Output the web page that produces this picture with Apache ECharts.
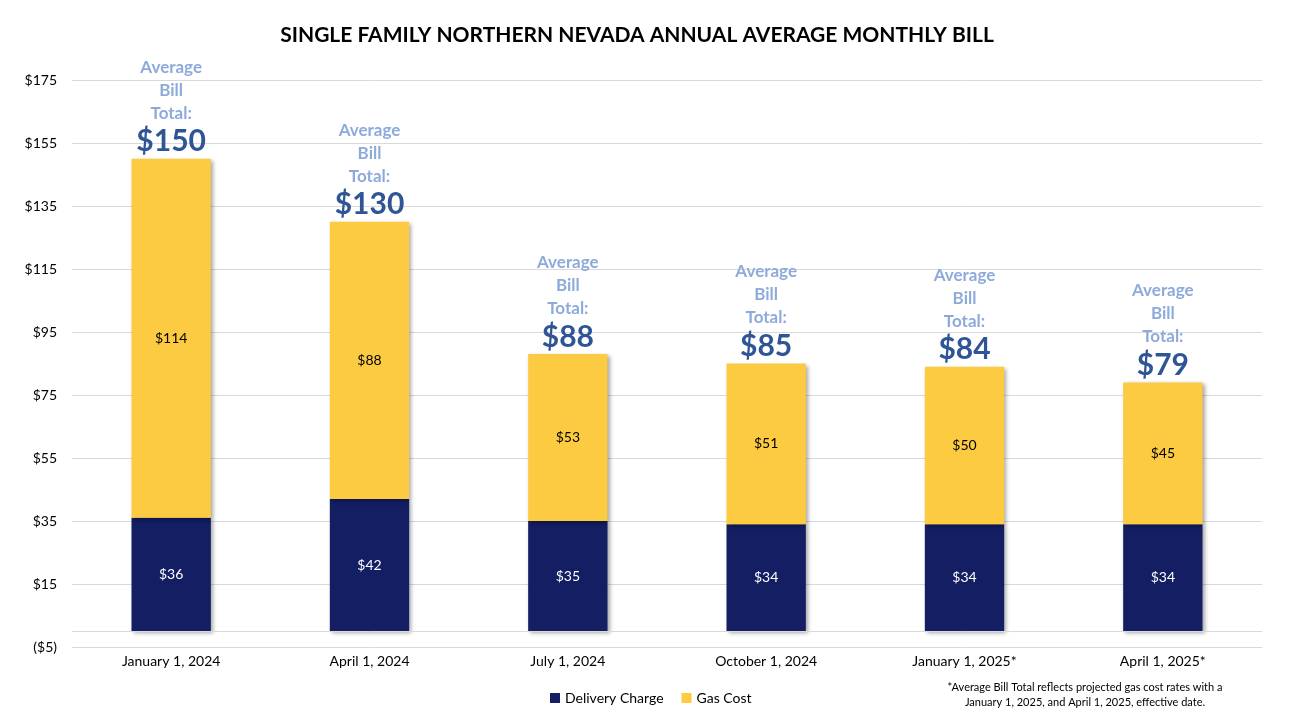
<!DOCTYPE html>
<html><head><meta charset="utf-8">
<script src="https://cdn.jsdelivr.net/npm/echarts@6/dist/echarts.min.js"></script>
<style>html,body{margin:0;padding:0;background:#fff}#c{width:1297px;height:725px}</style>
</head><body><div id="c"></div>
<script>
const categories = ['January 1, 2024','April 1, 2024','July 1, 2024','October 1, 2024','January 1, 2025*','April 1, 2025*'];
const deliveryCharge = [36, 42, 35, 34, 34, 34];
const gasCost = [114, 88, 53, 51, 50, 45];
const billTotals = [150, 130, 88, 85, 84, 79];
const yTicks = {min: -5, max: 175, interval: 20};

const FONT = 'Lato, "Open Sans", sans-serif';
const money = v => v < 0 ? '($' + Math.abs(v) + ')' : '$' + v;
const shadow = {shadowBlur: 4, shadowOffsetX: 2, shadowOffsetY: 2, shadowColor: 'rgba(0,0,0,0.35)'};

const chart = echarts.init(document.getElementById('c'));
chart.setOption({
  animation: false,
  textStyle: {fontFamily: FONT},
  title: {
    text: 'SINGLE FAMILY NORTHERN NEVADA ANNUAL AVERAGE MONTHLY BILL',
    left: 632, top: 20, textAlign: 'center',
    textStyle: {fontSize: 21, fontWeight: 'bold', color: '#000', fontFamily: FONT}
  },
  legend: {
    data: ['Delivery Charge', 'Gas Cost'],
    left: 545, top: 686, itemWidth: 10, itemHeight: 10, itemGap: 18,
    icon: 'rect',
    textStyle: {fontSize: 14, color: '#000', fontFamily: FONT}
  },
  graphic: [{
    type: 'text', position: [1085, 680],
    style: {
      text: '*Average Bill Total reflects projected gas cost rates with a\nJanuary 1, 2025, and April 1, 2025, effective date.',
      textAlign: 'center', textVerticalAlign: 'top', lineHeight: 15,
      font: '11px ' + FONT, fill: '#000'
    }
  }],
  grid: {left: 72, right: 35, top: 80, bottom: 78},
  xAxis: {
    type: 'category', data: categories,
    axisLine: {show: false, onZero: false},
    axisTick: {show: false},
    axisLabel: {fontSize: 14, color: '#000', margin: 7, fontFamily: FONT}
  },
  yAxis: {
    type: 'value', min: yTicks.min, max: yTicks.max, interval: yTicks.interval,
    axisLine: {show: false}, axisTick: {show: false},
    splitLine: {lineStyle: {color: '#d9d9d9', width: 1}},
    axisLabel: {fontSize: 14, color: '#000', margin: 15, formatter: money, fontFamily: FONT}
  },
  series: [
    {
      name: 'Delivery Charge', type: 'bar', stack: 'bill', data: deliveryCharge,
      barWidth: '40%',
      itemStyle: Object.assign({color: '#131e63'}, shadow),
      label: {show: true, position: 'inside', color: '#fff', fontSize: 14, formatter: p => money(p.value), fontFamily: FONT},
      markLine: {
        silent: true, symbol: 'none', label: {show: false},
        lineStyle: {color: '#d9d9d9', type: 'solid', width: 1},
        data: [{yAxis: 0}]
      }
    },
    {
      name: 'Gas Cost', type: 'bar', stack: 'bill', data: gasCost,
      itemStyle: Object.assign({color: '#fccb42'}, shadow),
      label: {show: true, position: 'inside', color: '#000', fontSize: 14, formatter: p => money(p.value), fontFamily: FONT}
    },
    {
      name: 'Total', type: 'bar', stack: 'bill', data: billTotals.map(() => 0),
      itemStyle: {color: 'transparent'},
      label: {
        show: true, position: 'top', distance: 0,
        formatter: p => '{a|Average}\n{a|Bill}\n{a|Total:}\n{b|$' + billTotals[p.dataIndex] + '}',
        rich: {
          a: {fontSize: 17, fontWeight: 'bold', color: '#8eaadb', lineHeight: 23, align: 'center', fontFamily: FONT},
          b: {fontSize: 30, fontWeight: 'bold', color: '#2f5597', lineHeight: 34, align: 'center', fontFamily: FONT}
        }
      }
    }
  ]
});
</script></body></html>
